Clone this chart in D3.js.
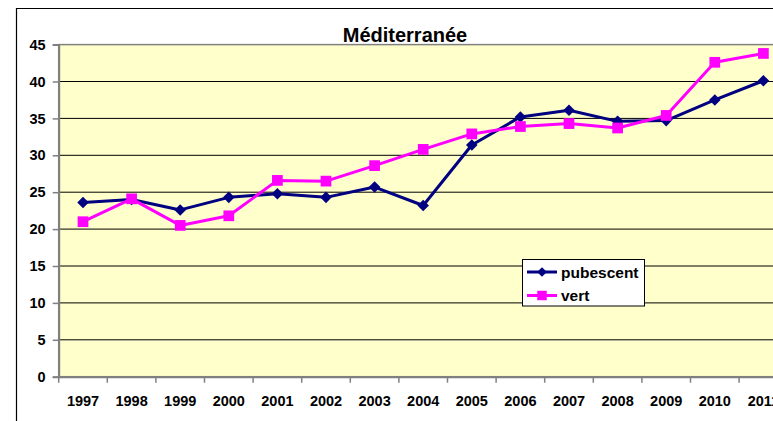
<!DOCTYPE html>
<html><head><meta charset="utf-8">
<script src="https://cdn.jsdelivr.net/npm/d3@7"></script>
<style>
html,body{margin:0;padding:0;background:#fff;overflow:hidden;}
text{font-family:"Liberation Sans",Arial,sans-serif;font-weight:bold;fill:#000;}
</style></head>
<body>
<svg id="c" width="773" height="421"></svg>
<script>
const title = "Méditerranée";
const years = ["1997","1998","1999","2000","2001","2002","2003","2004","2005","2006","2007","2008","2009","2010","2011"];
const pubescent = [23.6,24.0,22.6,24.3,24.8,24.3,25.7,23.2,31.4,35.2,36.1,34.6,34.7,37.5,40.1];
const vert = [21.0,24.1,20.5,21.8,26.6,26.5,28.6,30.8,32.9,33.9,34.3,33.7,35.4,42.6,43.8];
const yTicks = [0,5,10,15,20,25,30,35,40,45];
const seriesNames = ["pubescent","vert"];
const seriesColors = ["#000080","#FF00FF"];

const svg = d3.select("#c");
const L = 58.7, R = 787.7, T = 44.6, B = 376.7;
const x = d3.scaleBand().domain(years).range([L, R]);
const y = d3.scaleLinear().domain([0, 45]).range([B, T]);
const cx = d => x(d) + x.bandwidth() / 2;

// outer chart border
svg.append("path").attr("d", `M16.5,421 V8.5 H773`).attr("fill","none").attr("stroke","#000").attr("stroke-width",1.2);

// plot area
svg.append("rect").attr("x", L).attr("y", T).attr("width", R - L).attr("height", B - T)
  .attr("fill", "#FFFFCC").attr("stroke", "#808080").attr("stroke-width", 1.5);

// gridlines
svg.append("g").selectAll("line").data(yTicks.filter(v => v > 0 && v < 45)).join("line")
  .attr("x1", L).attr("x2", R).attr("y1", d => y(d)).attr("y2", d => y(d))
  .attr("stroke", "#000").attr("stroke-width", 1);

// y axis
const ya = svg.append("g").attr("transform", `translate(${L},0)`)
  .call(d3.axisLeft(y).tickValues(yTicks).tickSize(6).tickPadding(7));
ya.select(".domain").attr("stroke", "#808080").attr("stroke-width", 2);
ya.selectAll(".tick line").attr("stroke", "#808080").attr("stroke-width", 1.5);
ya.selectAll("text").attr("font-size", "14.5px").attr("font-family", "Liberation Sans, Arial").attr("font-weight","bold").attr("fill","#000");

// x axis
const xa = svg.append("g").attr("transform", `translate(0,${B})`)
  .call(d3.axisBottom(x).tickSize(0).tickPadding(19));
xa.select(".domain").attr("stroke", "#808080").attr("stroke-width", 2);
xa.selectAll("text").attr("font-size", "14.5px").attr("font-family", "Liberation Sans, Arial").attr("font-weight","bold").attr("fill","#000");
svg.append("g").selectAll("line").data(years).join("line")
  .attr("x1", d => x(d)).attr("x2", d => x(d)).attr("y1", B).attr("y2", B + 6)
  .attr("stroke", "#808080").attr("stroke-width", 1.5);

// title
svg.append("text").attr("x", 405).attr("y", 42).attr("text-anchor", "middle")
  .attr("font-size", "20px").text(title);

const line = d3.line().x((d, i) => cx(years[i])).y(d => y(d));
const diamond = d3.symbol().type(d3.symbolDiamond2).size(85);
const square = d3.symbol().type(d3.symbolSquare).size(115);

function drawSeries(vals, color, sym) {
  svg.append("path").datum(vals).attr("d", line).attr("fill", "none")
    .attr("stroke", color).attr("stroke-width", 3).attr("stroke-linejoin","round");
  svg.append("g").selectAll("path").data(vals).join("path")
    .attr("d", sym).attr("fill", color)
    .attr("transform", (d, i) => `translate(${cx(years[i])},${y(d)})`);
}
drawSeries(pubescent, seriesColors[0], diamond);
drawSeries(vert, seriesColors[1], square);

// legend
const lg = svg.append("g");
lg.append("rect").attr("x", 522.5).attr("y", 259.5).attr("width", 122).attr("height", 46.5)
  .attr("fill", "#fff").attr("stroke", "#000").attr("stroke-width", 1);
seriesNames.forEach((n, i) => {
  const yy = 272 + i * 23.5;
  lg.append("line").attr("x1", 527).attr("x2", 557).attr("y1", yy).attr("y2", yy)
    .attr("stroke", seriesColors[i]).attr("stroke-width", 3);
  lg.append("path").attr("d", i === 0 ? d3.symbol().type(d3.symbolDiamond2).size(60)() : d3.symbol().type(d3.symbolSquare).size(90)())
    .attr("fill", seriesColors[i]).attr("transform", `translate(542,${yy})`);
  lg.append("text").attr("x", 561).attr("y", yy + 5.5).attr("font-size", "15.5px").text(n);
});
</script>
</body></html>
